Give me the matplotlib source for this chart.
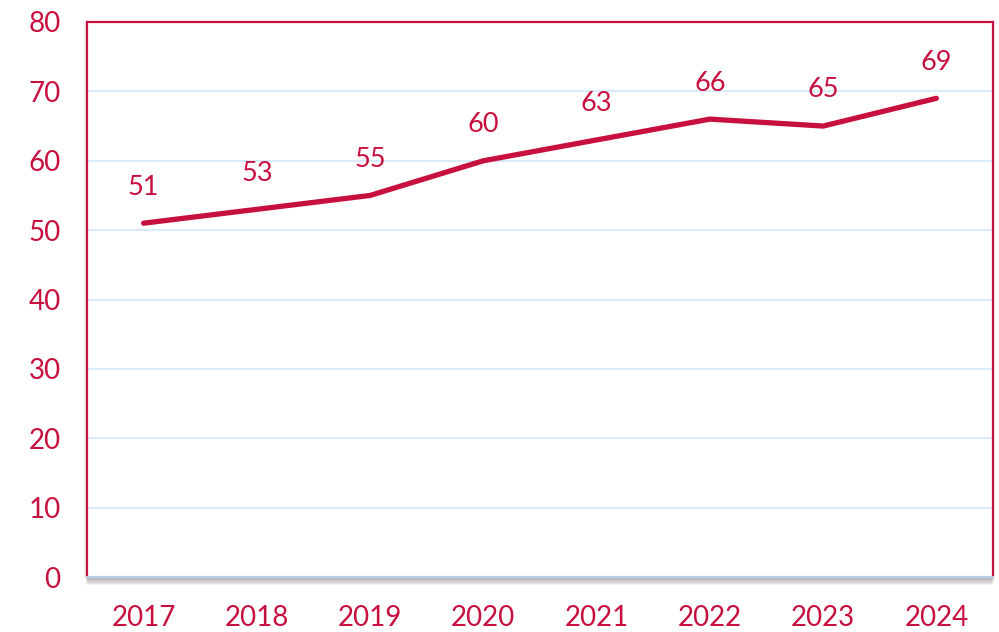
import matplotlib.pyplot as plt
import matplotlib.patheffects as pe

years = ["2017", "2018", "2019", "2020", "2021", "2022", "2023", "2024"]
values = [51, 53, 55, 60, 63, 66, 65, 69]

red = "#C8103F"
grid_blue = "#D5E8F8"

plt.rcParams['font.family'] = ['Lato', 'DejaVu Sans']

fig = plt.figure(figsize=(9.99, 6.32), dpi=100)
ax = fig.add_axes([87 / 999, 1 - 577 / 632, 906 / 999, 555 / 632])

x = range(len(years))
ax.plot(x, values, color=red, linewidth=3.8, solid_capstyle='round', zorder=3)
for i, v in zip(x, values):
    ax.annotate(str(v), (i, v), xytext=(0, 26), textcoords='offset points',
                ha='center', va='center', color=red, fontsize=19.5)

ax.set_xlim(-0.5, len(years) - 0.5)
ax.set_ylim(0, 80)
ax.set_yticks(range(0, 81, 10))
ax.set_xticks(list(x))
ax.set_xticklabels(years)
ax.yaxis.grid(True, color=grid_blue, linewidth=1.3)
ax.set_axisbelow(True)
ax.tick_params(axis='both', length=0, labelsize=20, colors=red)
ax.tick_params(axis='y', pad=19)
ax.tick_params(axis='x', pad=20)

for side in ['left', 'top', 'right']:
    ax.spines[side].set_color(red)
    ax.spines[side].set_linewidth(1.6)
ax.spines['bottom'].set_color("#B9CDE5")
ax.spines['bottom'].set_linewidth(1.6)

# soft shadow made of a few faint offset copies
shadow = [pe.SimplePatchShadow(offset=(dx, dy), shadow_rgbFace='black', alpha=0.06)
          for dx, dy in [(-2, -1), (-1, -2), (0, -3), (1, -4), (0, -5), (-1, -6)]]
ax.patch.set_path_effects(shadow + [pe.Normal()])

plt.savefig('out.png', dpi=100)
